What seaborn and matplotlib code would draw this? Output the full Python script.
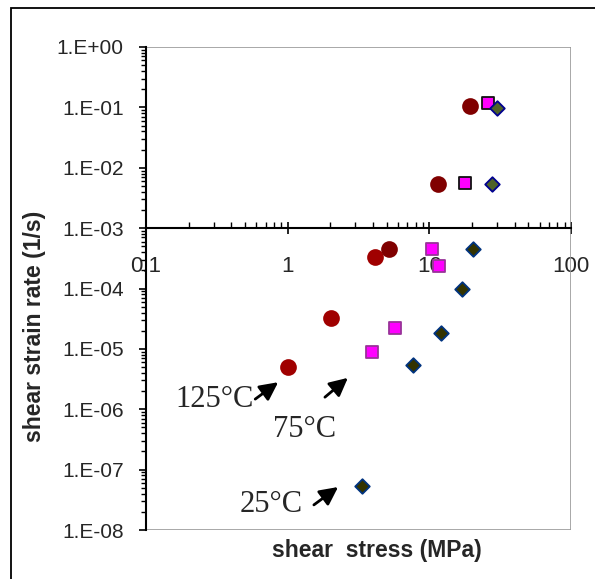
import matplotlib
matplotlib.use("Agg")
import matplotlib.pyplot as plt
import matplotlib.ticker as mticker
from matplotlib.patches import Rectangle
import numpy as np
import pandas as pd
import seaborn as sns

# Shear stress (MPa) and shear strain rate (1/s) for each test temperature
t125_stress = [1.0, 2.02, 4.13, 5.19, 11.5, 19.3]
t125_rate = [5.0e-6, 3.3e-5, 3.3e-4, 4.5e-4, 5.4e-3, 0.105]
t125_test = ["creep", "creep", "creep", "tensile", "tensile", "tensile"]

t75_stress = [3.94, 5.72, 10.4, 11.7, 17.8, 25.9]
t75_rate = [8.9e-6, 2.2e-5, 4.5e-4, 2.4e-4, 5.6e-3, 0.118]
t75_test = ["creep", "creep", "creep", "creep", "tensile", "tensile"]

t25_stress = [3.35, 7.66, 12.1, 17.0, 20.3, 27.7, 30.0]
t25_rate = [5.4e-8, 5.4e-6, 1.8e-5, 9.8e-5, 4.5e-4, 5.4e-3, 0.098]
t25_test = ["creep", "creep", "creep", "creep", "creep", "tensile", "tensile"]

temperatures = ["125°C", "75°C", "25°C"]
y_decades = list(range(-8, 1))
x_ticks = [0.1, 1, 10, 100]

frames = []
for temp, xs, ys, ts in zip(temperatures,
                            [t125_stress, t75_stress, t25_stress],
                            [t125_rate, t75_rate, t25_rate],
                            [t125_test, t75_test, t25_test]):
    frames.append(pd.DataFrame({"stress": xs, "rate": ys, "test": ts, "temp": temp}))
df = pd.concat(frames, ignore_index=True)

sns.set_style("white")
plt.rcParams["font.family"] = ["Liberation Sans", "DejaVu Sans"]

fig = plt.figure(figsize=(5.95, 5.79), dpi=100)
ax = fig.add_axes([146 / 595, 1 - 530 / 579, 425 / 595, 483 / 579])

styles = {
    ("125°C", "creep"): dict(marker="o", s=115, color="#A00000", edgecolor="#A00000"),
    ("125°C", "tensile"): dict(marker="o", s=115, color="#800000", edgecolor="#800000"),
    ("75°C", "creep"): dict(marker="s", s=85, color="#FF00FF", edgecolor="#993399"),
    ("75°C", "tensile"): dict(marker="s", s=85, color="#FF00FF", edgecolor="#111111"),
    ("25°C", "creep"): dict(marker="D", s=55, color="#333300", edgecolor="#003380"),
    ("25°C", "tensile"): dict(marker="D", s=55, color="#4F6228", edgecolor="#000090"),
}
for (temp, test), st in styles.items():
    sub = df[(df["temp"] == temp) & (df["test"] == test)]
    sns.scatterplot(data=sub, x="stress", y="rate", ax=ax, linewidth=1.3,
                    zorder=3, legend=False, **st)

ax.set_xscale("log")
ax.set_yscale("log")
ax.set_xlim(0.1, 100)
ax.set_ylim(1e-8, 1)

# Gray plot-area frame, with the value axis in black on the left
ax.add_patch(Rectangle((0, 0), 1, 1, transform=ax.transAxes, fill=False,
                       edgecolor="#999999", linewidth=1.2, zorder=1))
for side in ["top", "right"]:
    ax.spines[side].set_visible(False)
ax.spines["left"].set_color("black")
ax.spines["left"].set_linewidth(1.5)
ax.spines["bottom"].set_position(("data", 1e-3))
ax.spines["bottom"].set_color("black")
ax.spines["bottom"].set_linewidth(1.5)
ax.spines["bottom"].set_zorder(2)

ax.yaxis.set_major_locator(mticker.FixedLocator([10.0 ** d for d in y_decades]))
ax.yaxis.set_major_formatter(mticker.FuncFormatter(
    lambda v, p: "1.E%+03d" % int(round(np.log10(v)))))
ax.yaxis.set_minor_locator(mticker.LogLocator(base=10, subs=np.arange(2, 10), numticks=20))
ax.yaxis.set_minor_formatter(mticker.NullFormatter())
ax.tick_params(axis="y", which="major", direction="out", length=5, width=1.2,
               color="black", labelsize=15, pad=11, left=True)
ax.tick_params(axis="y", which="minor", direction="out", length=3.5, width=1.0,
               color="black", left=True)

ax.xaxis.set_major_locator(mticker.FixedLocator(x_ticks))
ax.xaxis.set_major_formatter(mticker.FuncFormatter(lambda v, p: "%g" % v))
ax.xaxis.set_minor_locator(mticker.LogLocator(base=10, subs=np.arange(2, 10), numticks=20))
ax.xaxis.set_minor_formatter(mticker.NullFormatter())
ax.tick_params(axis="x", which="major", direction="inout", length=8, width=1.2,
               color="black", labelsize=16, pad=16, bottom=True)
ax.tick_params(axis="x", which="minor", direction="in", length=4.5, width=1.0,
               color="black", bottom=True)
ax.grid(False)
ax.set_xlabel("")
ax.set_ylabel("")

fig.text(35 / 595, 1 - 326 / 579, "shear strain rate (1/s)", rotation=90,
         ha="center", va="center", fontsize=16.5, fontweight="bold")
fig.text(377 / 595, 1 - 551 / 579, "shear  stress (MPa)",
         ha="center", va="center", fontsize=16.5, fontweight="bold")

# Temperature labels with arrows pointing at each data set
serif = ["Liberation Serif", "DejaVu Serif"]
labels = [
    ("125°C", (0.162, 0.271), (0.257, 0.271), (0.311, 0.306)),
    ("75°C", (0.372, 0.209), (0.421, 0.275), (0.475, 0.315)),
    ("25°C", (0.294, 0.052), (0.395, 0.052), (0.452, 0.089)),
]
for text, tpos, tail, head in labels:
    ax.text(*tpos, text, transform=ax.transAxes, ha="center", va="center",
            fontsize=22, family=serif, zorder=4)
    ax.annotate("", xy=head, xytext=tail, xycoords="axes fraction",
                textcoords="axes fraction",
                arrowprops=dict(arrowstyle="-|>,head_length=1.1,head_width=0.55",
                                color="black", lw=2, shrinkA=0, shrinkB=0))

# Outer chart border
fig.patches.append(Rectangle((11 / 595, -0.05), 1.2, 1 - 8 / 579 + 0.05,
                             transform=fig.transFigure, fill=False,
                             edgecolor="black", linewidth=1.3, clip_on=False))

fig.savefig("out.png", dpi=100)
